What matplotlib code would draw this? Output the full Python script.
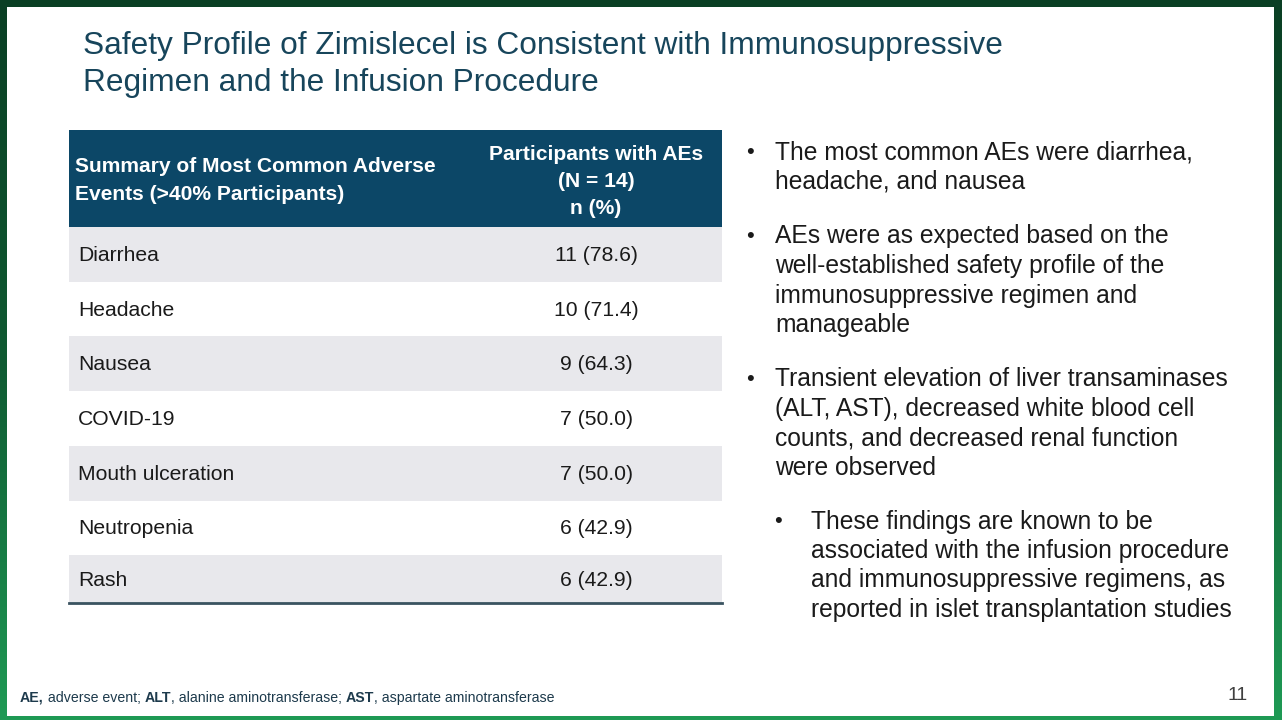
import numpy as np
import matplotlib.pyplot as plt
from matplotlib.colors import LinearSegmentedColormap
from matplotlib.patches import Rectangle

plt.rcParams['font.family'] = ['Liberation Sans', 'DejaVu Sans']

W, H = 1282, 720

title_lines = ["Safety Profile of Zimislecel is Consistent with Immunosuppressive",
               "Regimen and the Infusion Procedure"]

header_left = ["Summary of Most Common Adverse", "Events (>40% Participants)"]
header_right = ["Participants with AEs", "(N = 14)", "n (%)"]

events = ["Diarrhea", "Headache", "Nausea", "COVID-19", "Mouth ulceration",
          "Neutropenia", "Rash"]
counts = [11, 10, 9, 7, 7, 6, 6]
pcts = [78.6, 71.4, 64.3, 50.0, 50.0, 42.9, 42.9]

bullets = [
    (0, ["The most common AEs were diarrhea,", "headache, and nausea"]),
    (0, ["AEs were as expected based on the", "well-established safety profile of the",
         "immunosuppressive regimen and", "manageable"]),
    (0, ["Transient elevation of liver transaminases", "(ALT, AST), decreased white blood cell",
         "counts, and decreased renal function", "were observed"]),
    (1, ["These findings are known to be", "associated with the infusion procedure",
         "and immunosuppressive regimens, as", "reported in islet transplantation studies"]),
]

footer = [("AE,", True), (" adverse event; ", False), ("ALT", True),
          (", alanine aminotransferase; ", False), ("AST", True),
          (", aspartate aminotransferase", False)]
page_no = "11"

title_color = '#17455b'
header_color = '#0c4767'
band_color = '#e8e8ec'
text_color = '#1a1a1a'

fig = plt.figure(figsize=(W / 100, H / 100), dpi=100)
ax = fig.add_axes([0, 0, 1, 1])
ax.set_xlim(0, W)
ax.set_ylim(H, 0)
ax.axis('off')

# green frame
frame = LinearSegmentedColormap.from_list('frame', ['#0a3f24', '#0f5a32', '#1f9a55'])
grad = np.linspace(0, 1, 256).reshape(-1, 1)
ax.imshow(grad, cmap=frame, extent=(0, W, H, 0), aspect='auto', zorder=0)
ax.add_patch(Rectangle((7, 7), 1267, 709, facecolor='white', edgecolor='none', zorder=1))

# title
for i, line in enumerate(title_lines):
    ax.text(83, 46 + i * 37, line, fontsize=22.8, color=title_color,
            va='center', ha='left', zorder=3)

# table
tx0, tx1 = 69, 722
col2 = 596
ax.add_patch(Rectangle((tx0, 130), tx1 - tx0, 97, facecolor=header_color,
                       edgecolor='none', zorder=2))
for i, line in enumerate(header_left):
    ax.text(75, 167 + i * 27, line, fontsize=15.1, fontweight='bold', color='white',
            va='center', ha='left', zorder=3)
for i, line in enumerate(header_right):
    ax.text(col2, 154 + i * 27.5, line, fontsize=15.1, fontweight='bold', color='white',
            va='center', ha='center', zorder=3)

row_h = 54.7
y_top = 227
for i, (ev, c, p) in enumerate(zip(events, counts, pcts)):
    y0 = y_top + i * row_h
    h = row_h if i < len(events) - 1 else 603 - y0
    if i % 2 == 0:
        ax.add_patch(Rectangle((tx0, y0), tx1 - tx0, h, facecolor=band_color,
                               edgecolor='none', zorder=2))
    yc = y0 + h / 2 + 1
    ax.text(78, yc, ev, fontsize=15.2, color=text_color, va='center', ha='left', zorder=3)
    ax.text(col2, yc, '%d (%.1f)' % (c, p), fontsize=15.2, color=text_color,
            va='center', ha='center', zorder=3)
ax.plot([tx0, tx1], [603, 603], color='#3a5360', lw=2, zorder=3)

# bullets
ys = [152.5, 236.5, 379.5, 521.5]
for (lvl, lines), y in zip(bullets, ys):
    bx = 750 if lvl == 0 else 778
    tx = 775 if lvl == 0 else 811
    ax.text(bx, y, u'\u2022', fontsize=16, color=text_color, va='center', ha='center', zorder=3)
    for j, line in enumerate(lines):
        ax.text(tx, y + j * 29.5, line, fontsize=17.7, color=text_color,
                va='center', ha='left', zorder=3)

# footer with bold abbreviations
fig.canvas.draw()
renderer = fig.canvas.get_renderer()
x = 20
for txt, bold in footer:
    t = ax.text(x, 702, txt, fontsize=10.15, color='#1d3a4c',
                fontweight='bold' if bold else 'normal', va='baseline', ha='left', zorder=3)
    bb = t.get_window_extent(renderer=renderer)
    x += bb.width

ax.text(1238, 695, page_no, fontsize=14, color='#404040', va='center', ha='center', zorder=3)

fig.savefig('out.png', dpi=100)
